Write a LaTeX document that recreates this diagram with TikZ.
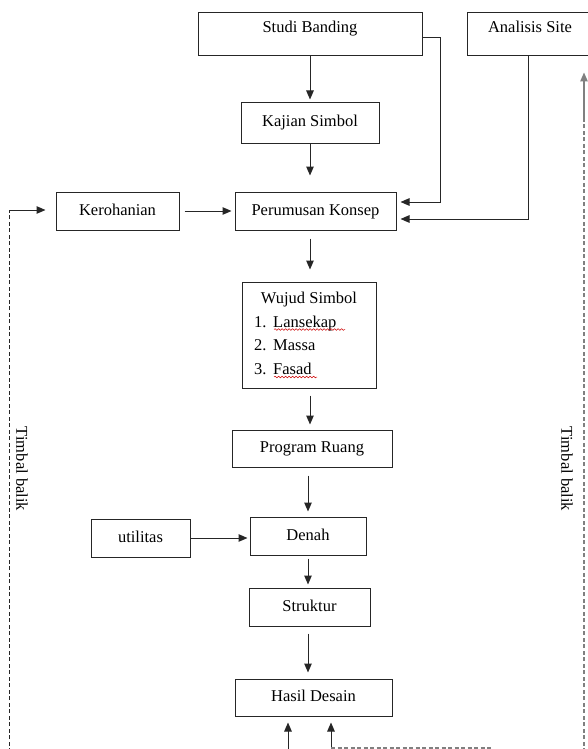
\documentclass[tikz,border=0pt]{standalone}
\usepackage{fontspec}
\setmainfont{Liberation Serif}
\usetikzlibrary{arrows.meta,decorations.pathmorphing}
\newcommand\dfont{\fontsize{16.5}{20}\selectfont}
\begin{document}
\begin{tikzpicture}[x=1pt,y=-1pt,
  box/.style={draw=black!85,line width=1pt,inner sep=0pt,text height=12pt,text depth=4pt,font=\dfont},
  txt/.style={inner sep=0pt,font=\dfont},
  arr/.style={-{Triangle[length=9pt,width=7.5pt]},line width=1pt,draw=black!85},
  dashline/.style={line width=1pt,draw=black!85,dash pattern=on 4pt off 2.5pt},
  dashgray/.style={line width=1.2pt,draw=black!50,dash pattern=on 4pt off 2.5pt},
  squig/.style={draw=red!80!black,line width=0.5pt,decorate,decoration={snake,amplitude=0.8pt,segment length=3.5pt}}]
\useasboundingbox (0,0) rectangle (588,749);
% boxes
\node[box,minimum width=224pt,minimum height=43pt,text depth=15pt] (studi) at (310,34.5) {Studi Banding};
\node[box,minimum width=126pt,minimum height=43pt,text depth=15pt] (analisis) at (530,34.5) {Analisis Site};
\node[box,minimum width=138pt,minimum height=40pt] (kajian) at (310,123) {Kajian Simbol};
\node[box,minimum width=161pt,minimum height=38pt] (perumusan) at (315.5,211) {Perumusan Konsep};
\node[box,minimum width=123pt,minimum height=38pt] (kerohanian) at (117.5,211) {Kerohanian};
\node[box,minimum width=134pt,minimum height=106pt] (wujud) at (309,335) {};
\node[txt,anchor=base] (wt) at (309,303) {Wujud Simbol};
\node[txt,anchor=base west] (n1) at (254,327) {1.};
\node[txt,anchor=base west] (w1) at (273,327) {Lansekap};
\node[txt,anchor=base west] (n2) at (254,350) {2.};
\node[txt,anchor=base west] (w2) at (273,350) {Massa};
\node[txt,anchor=base west] (n3) at (254,374) {3.};
\node[txt,anchor=base west] (w3) at (273,374) {Fasad};
\draw[squig] (274,329.5) -- (345,329.5);
\draw[squig] (274,377) -- (317,377);
\node[box,minimum width=160pt,minimum height=37pt] (program) at (312,448.5) {Program Ruang};
\node[box,minimum width=99pt,minimum height=38pt] (utilitas) at (140.5,538) {utilitas};
\node[box,minimum width=116pt,minimum height=38pt] (denah) at (308,536) {Denah};
\node[box,minimum width=121pt,minimum height=38pt] (struktur) at (309.5,607) {Struktur};
\node[box,minimum width=157pt,minimum height=37pt] (hasil) at (313.5,697.5) {Hasil Desain};
% labels
\node[txt,rotate=-90] (tbl) at (22,469) {Timbal balik};
\node[txt,rotate=-90] (tbr) at (567,469) {Timbal balik};
% main flow
\draw[arr,shorten >=3pt] (studi) -- (kajian);
\draw[arr,shorten >=16pt] (kajian.south) -- (kajian.south |- perumusan.north);
\draw[arr,shorten <=8pt,shorten >=12pt] (kajian.south |- perumusan.south) -- (kajian.south |- wujud.north);
\draw[arr,shorten <=7pt,shorten >=5pt] (kajian.south |- wujud.south) -- (kajian.south |- program.north);
\draw[arr,shorten <=8pt,shorten >=5pt] (denah.north |- program.south) -- (denah.north);
\draw[arr,shorten <=3pt,shorten >=3pt] (denah.south) -- (denah.south |- struktur.north);
\draw[arr,shorten <=7pt,shorten >=6pt] (denah.south |- struktur.south) -- (denah.south |- hasil.north);
% side inputs
\coordinate (c1) at (440,38);
\coordinate (c2) at (440,202);
\draw[arr,shorten >=4pt] (studi.east |- c1) -- (c1) -- (c2) -- (perumusan.east |- c2);
\coordinate (c3) at (528,219);
\draw[arr,shorten >=4pt] (analisis.south -| c3) -- (c3) -- (perumusan.east |- c3);
\draw[arr,shorten <=5pt,shorten >=3pt] (kerohanian) -- (perumusan);
\draw[arr,shorten >=2pt] (utilitas.east) -- (denah.west |- utilitas.east);
% feedback left
\coordinate (l0) at (9,752);
\coordinate (l1) at (9,210);
\draw[dashline] (l0) -- (l1);
\draw[arr,shorten >=10pt] (l1) -- (kerohanian.west |- l1);
% feedback right
\coordinate (r0) at (584,752);
\coordinate (r1) at (584,118);
\draw[dashgray] (r0) -- (r1);
\draw[arr,draw=black!50,line width=1.2pt,shorten >=16pt] (r1) -- (analisis.south -| r1);
% bottom
\coordinate (b1) at (288,752);
\coordinate (b2) at (331,752);
\coordinate (b3) at (493,748);
\draw[arr,shorten >=6pt] (b1) -- (hasil.south -| b1);
\draw[arr,shorten >=6pt] (b2) -- (hasil.south -| b2);
\draw[dashgray] (b2 |- b3) -- (b3);
\end{tikzpicture}
\end{document}
